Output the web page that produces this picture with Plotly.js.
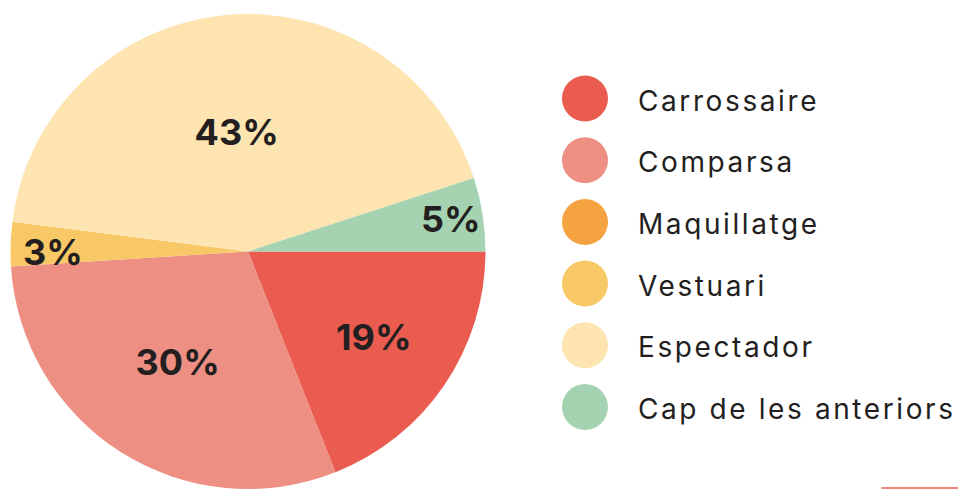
<!DOCTYPE html>
<html>
<head>
<meta charset="utf-8">
<script src="https://cdn.plot.ly/plotly-3.0.1.min.js"></script>
<style>
html,body{margin:0;padding:0;background:#fff;}
#chart{width:958px;height:489px;}
#chart .scatterlayer .textpoint text{letter-spacing:2.6px;}
</style>
</head>
<body>
<div id="chart"></div>
<script>
var categories = ["Carrossaire", "Comparsa", "Maquillatge", "Vestuari", "Espectador", "Cap de les anteriors"];
var values = [19, 30, 0, 3, 43, 5];
var colors = ["#ea5b50", "#ee8f83", "#f5a340", "#f8c766", "#fee4b0", "#a5d3b1"];
var legendIndex = [0, 1, 2, 3, 4, 5];

var NB = "\u00a0";
var pie = {
  type: "pie",
  labels: categories,
  values: values,
  marker: {colors: colors, line: {width: 0}},
  sort: false,
  direction: "clockwise",
  rotation: 90,
  texttemplate: values.map(function(v){
    if (v <= 0) return "";
    if (v < 4) return NB + NB + NB + NB + "%{value}%";
    return "%{value}%";
  }),
  textposition: "inside",
  insidetextorientation: "horizontal",
  textfont: {family: "Inter, 'DejaVu Sans', sans-serif", size: 36, color: "#231f20", weight: 700},
  hoverinfo: "label+percent",
  showlegend: false,
  domain: {x: [0.01096, 0.50678], y: [0, 1]}
};

var legendMarkers = {
  type: "scatter",
  mode: "markers",
  x: legendIndex.map(function(){return 0;}),
  y: legendIndex,
  marker: {size: 46, color: colors, line: {width: 0}},
  hoverinfo: "skip",
  showlegend: false
};
var legendText = {
  type: "scatter",
  mode: "text",
  x: legendIndex.map(function(){return 1;}),
  y: legendIndex,
  yaxis: "y2",
  text: categories,
  textposition: "middle right",
  textfont: {family: "Inter, 'DejaVu Sans', sans-serif", size: 28, color: "#231f20"},
  hoverinfo: "skip",
  showlegend: false
};

var layout = {
  width: 958,
  height: 489,
  margin: {l: 0, r: 0, t: 14, b: 0},
  paper_bgcolor: "#ffffff",
  plot_bgcolor: "rgba(0,0,0,0)",
  uniformtext: {minsize: 36, mode: "show"},
  xaxis: {domain: [0.55, 1], range: [-1.096, 7.038], visible: false, fixedrange: true},
  yaxis: {range: [6.329, -1.3695], visible: false, fixedrange: true},
  yaxis2: {overlaying: "y", range: [6.248, -1.4505], visible: false, fixedrange: true},
  shapes: [{type: "line", xref: "paper", yref: "paper", x0: 0.92, x1: 1, y0: 0.002, y1: 0.002, line: {color: "#f0897a", width: 2}}]
};

Plotly.newPlot("chart", [pie, legendMarkers, legendText], layout, {displayModeBar: false, staticPlot: true});
</script>
</body>
</html>
